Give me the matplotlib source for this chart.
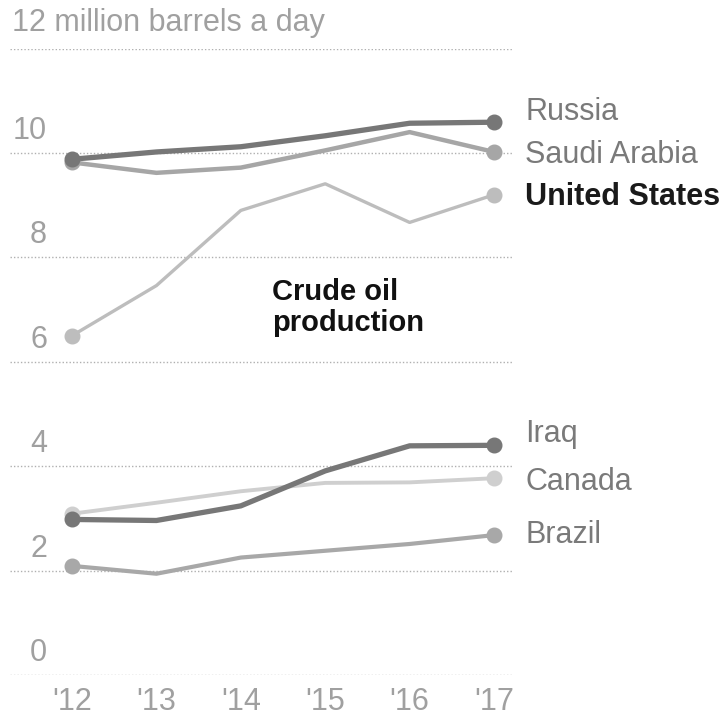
import matplotlib

matplotlib.use("Agg")
import matplotlib.pyplot as plt

years = [2012, 2013, 2014, 2015, 2016, 2017]
year_labels = ["'12", "'13", "'14", "'15", "'16", "'17"]

russia = [9.88, 10.02, 10.12, 10.33, 10.57, 10.59]
saudi = [9.82, 9.62, 9.72, 10.05, 10.40, 10.02]
usa = [6.50, 7.46, 8.90, 9.41, 8.67, 9.20]
iraq = [2.98, 2.96, 3.24, 3.91, 4.39, 4.40]
canada = [3.09, 3.30, 3.52, 3.68, 3.69, 3.77]
brazil = [2.09, 1.94, 2.25, 2.38, 2.51, 2.68]

yticks = [0, 2, 4, 6, 8, 10, 12]

plt.rcParams["font.family"] = ["Liberation Sans", "DejaVu Sans"]

fig = plt.figure(figsize=(7.2, 7.18), dpi=100)
ax = fig.add_axes([10 / 720, 43 / 718, 502 / 720, 626.4 / 718])
ax.set_xlim(2011.265, 2017.213)
ax.set_ylim(0, 12)
for s in ax.spines.values():
    s.set_visible(False)
ax.set_yticks([])

for v in yticks:
    ax.axhline(v, color="#b0b0b0", lw=1.0, ls=(0, (1, 1.5)), zorder=1)
    if v == 12:
        ax.annotate("12 million barrels a day", xy=(0, v),
                    xycoords=("axes fraction", "data"), xytext=(2, 18),
                    textcoords="offset pixels", ha="left", va="baseline",
                    fontsize=22, color="#a0a0a0")
    else:
        ax.annotate(str(v), xy=(0, v), xycoords=("axes fraction", "data"),
                    xytext=(37, 14), textcoords="offset pixels",
                    ha="right", va="baseline", fontsize=22, color="#a0a0a0")

ax.set_xticks(years)
ax.set_xticklabels(year_labels, fontsize=22, color="#a0a0a0")
ax.tick_params(axis="x", length=0, pad=9)

# name, values, color, line width, label color, bold, label dy (pixels)
series = [
    ("Saudi Arabia", saudi, "#a6a6a6", 3.2, "#7a7a7a", False, -11),
    ("Russia", russia, "#777777", 3.8, "#7a7a7a", False, 2),
    ("United States", usa, "#bdbdbd", 2.4, "#1a1a1a", True, -10),
    ("Canada", canada, "#cfcfcf", 2.8, "#7a7a7a", False, -12),
    ("Brazil", brazil, "#a8a8a8", 3.0, "#7a7a7a", False, -8),
    ("Iraq", iraq, "#777777", 3.8, "#7a7a7a", False, 3),
]

for name, vals, col, lw, tcol, bold, dy in series:
    ax.plot(years, vals, color=col, lw=lw, solid_capstyle="round",
            solid_joinstyle="round", zorder=3)
    ax.plot([years[0], years[-1]], [vals[0], vals[-1]], "o", color=col,
            ms=10.5, zorder=4)
    ax.annotate(name, xy=(years[-1], vals[-1]), xytext=(31, dy),
                textcoords="offset pixels", ha="left", va="baseline",
                fontsize=22, color=tcol,
                fontweight="bold" if bold else "normal",
                annotation_clip=False)

ax.text(0.522, 0.634, "Crude oil\nproduction", transform=ax.transAxes,
        ha="left", va="top", fontsize=21, fontweight="bold", color="#111111",
        linespacing=1.12)

fig.savefig("out.png", dpi=100)
